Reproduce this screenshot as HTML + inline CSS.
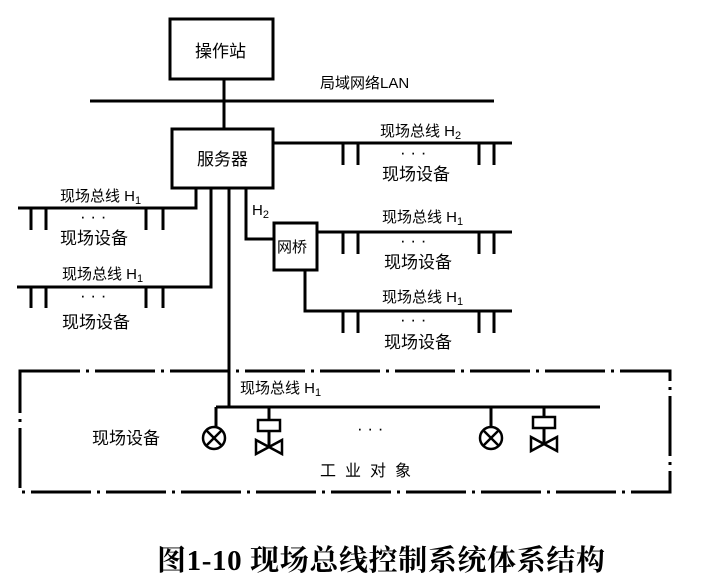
<!DOCTYPE html>
<html><head><meta charset="utf-8"><style>
html,body{margin:0;padding:0;background:#fff;}
svg{display:block}
text{font-family:"Liberation Serif","Noto Serif CJK SC","Noto Sans CJK SC",serif;fill:#000}
.s{font-family:"Liberation Sans","Noto Sans CJK SC",sans-serif;font-size:17px}
</style></head><body>
<svg width="701" height="582" viewBox="0 0 701 582" xmlns="http://www.w3.org/2000/svg">
<g stroke="#000" stroke-width="3" fill="none">
<rect x="170" y="19" width="103" height="60"/>
<line x1="90" y1="101" x2="494" y2="101"/>
<line x1="224" y1="79" x2="224" y2="129"/>
<rect x="172" y="129" width="101" height="59"/>
<!-- right H2 bus -->
<line x1="273" y1="143" x2="512" y2="143"/>
<line x1="343" y1="143" x2="343" y2="165"/><line x1="358" y1="143" x2="358" y2="165"/>
<line x1="479" y1="143" x2="479" y2="165"/><line x1="494" y1="143" x2="494" y2="165"/>
<!-- left bus 1 -->
<polyline points="196,188 196,208 18,208"/>
<line x1="31" y1="208" x2="31" y2="230"/><line x1="46" y1="208" x2="46" y2="230"/>
<line x1="146" y1="208" x2="146" y2="230"/><line x1="163" y1="208" x2="163" y2="230"/>
<!-- left bus 2 -->
<polyline points="211,188 211,287 17,287"/>
<line x1="31" y1="287" x2="31" y2="308"/><line x1="46" y1="287" x2="46" y2="308"/>
<line x1="146" y1="287" x2="146" y2="308"/><line x1="163" y1="287" x2="163" y2="308"/>
<!-- main vertical -->
<line x1="229" y1="188" x2="229" y2="407"/>
<!-- H2 to bridge -->
<polyline points="246,188 246,239 274,239"/>
<rect x="274" y="223" width="43" height="47"/>
<line x1="317" y1="232" x2="512" y2="232"/>
<line x1="343" y1="232" x2="343" y2="254"/><line x1="358" y1="232" x2="358" y2="254"/>
<line x1="479" y1="232" x2="479" y2="254"/><line x1="494" y1="232" x2="494" y2="254"/>
<polyline points="305,270 305,311 512,311"/>
<line x1="343" y1="311" x2="343" y2="333"/><line x1="358" y1="311" x2="358" y2="333"/>
<line x1="479" y1="311" x2="479" y2="333"/><line x1="494" y1="311" x2="494" y2="333"/>
<!-- dash-dot box -->
<rect x="20" y="371" width="650" height="121" stroke-dasharray="60,6,3,6"/>
<!-- inner bus -->
<line x1="216" y1="407" x2="600" y2="407"/>
<line x1="216" y1="407" x2="216" y2="427"/>
<circle cx="214" cy="438" r="11" stroke-width="2.5"/>
<line x1="206" y1="430" x2="222" y2="446" stroke-width="2.5"/><line x1="222" y1="430" x2="206" y2="446" stroke-width="2.5"/>
<line x1="269" y1="407" x2="269" y2="420"/>
<rect x="258" y="420" width="22" height="11" stroke-width="2.5"/>
<line x1="269" y1="431" x2="269" y2="447"/>
<polygon points="256,440 256,454 282,440 282,454" stroke-width="2.5"/>
<line x1="491" y1="407" x2="491" y2="427"/>
<circle cx="491" cy="438" r="11" stroke-width="2.5"/>
<line x1="483" y1="430" x2="499" y2="446" stroke-width="2.5"/><line x1="499" y1="430" x2="483" y2="446" stroke-width="2.5"/>
<line x1="544" y1="407" x2="544" y2="417"/>
<rect x="533" y="417" width="22" height="11" stroke-width="2.5"/>
<line x1="544" y1="428" x2="544" y2="444"/>
<polygon points="531,437 531,451 557,437 557,451" stroke-width="2.5"/>
</g>
<g class="s">
<text x="195" y="57" class="s">操作站</text>
<text x="197" y="165" class="s">服务器</text>
<text x="277" y="252" class="s" style="font-size:15px">网桥</text>
<text x="320" y="88" class="s" style="font-size:15px">局域网络LAN</text>
<text x="380" y="136" class="s" style="font-size:15px">现场总线 H<tspan font-size="11" dy="3">2</tspan></text>
<text x="400" y="158" class="s">· · ·</text>
<text x="382" y="180" class="s">现场设备</text>
<text x="60" y="201" class="s" style="font-size:15px">现场总线 H<tspan font-size="11" dy="3">1</tspan></text>
<text x="80" y="222" class="s">· · ·</text>
<text x="60" y="244" class="s">现场设备</text>
<text x="62" y="279" class="s" style="font-size:15px">现场总线 H<tspan font-size="11" dy="3">1</tspan></text>
<text x="80" y="301" class="s">· · ·</text>
<text x="62" y="328" class="s">现场设备</text>
<text x="252" y="215" class="s" style="font-size:15px">H<tspan font-size="11" dy="3">2</tspan></text>
<text x="382" y="222" class="s" style="font-size:15px">现场总线 H<tspan font-size="11" dy="3">1</tspan></text>
<text x="400" y="246" class="s">· · ·</text>
<text x="384" y="268" class="s">现场设备</text>
<text x="382" y="302" class="s" style="font-size:15px">现场总线 H<tspan font-size="11" dy="3">1</tspan></text>
<text x="400" y="325" class="s">· · ·</text>
<text x="384" y="348" class="s">现场设备</text>
<text x="240" y="393" class="s" style="font-size:15px">现场总线 H<tspan font-size="11" dy="3">1</tspan></text>
<text x="357" y="434" class="s">· · ·</text>
<text x="92" y="444" class="s">现场设备</text>
<text x="320" y="476" class="s" style="font-size:16px" letter-spacing="9">工业对象</text>
</g>
<text x="157" y="570" font-size="29" font-weight="bold" textLength="448" lengthAdjust="spacing">图1-10 现场总线控制系统体系结构</text>
</svg>
</body></html>
